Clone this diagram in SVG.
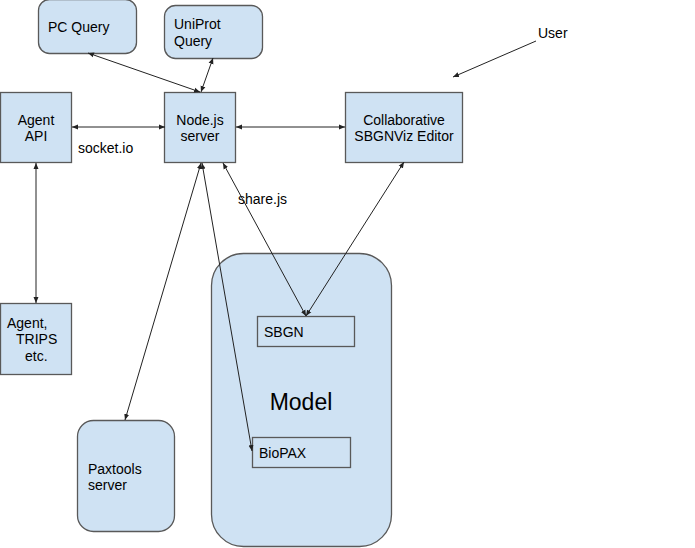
<svg xmlns="http://www.w3.org/2000/svg" width="695" height="548" viewBox="0 0 695 548">
<defs>
<marker id="ah" viewBox="0 0 6 6" refX="6" refY="3" markerWidth="6" markerHeight="6" markerUnits="userSpaceOnUse" orient="auto-start-reverse">
<path d="M0,0.5 L6,3 L0,5.5 z" fill="#222"/>
</marker>
</defs>
<style>
.n{fill:#cfe2f3;stroke:#595959;stroke-width:1.3}
.b{fill:none;stroke:#595959;stroke-width:1.3}
.t{font-family:"Liberation Sans",Arial,sans-serif;font-size:14px;fill:#000}
.c{text-anchor:middle}
.e{fill:none;stroke:#222;stroke-width:1;marker-start:url(#ah);marker-end:url(#ah)}
.s{fill:none;stroke:#222;stroke-width:1;marker-end:url(#ah)}
</style>
<rect width="695" height="548" fill="#fff"/>
<g id="model">
<rect class="n" x="211.5" y="253.5" width="180" height="293" rx="32"/>
<text class="t c" x="301" y="410" style="font-size:23px">Model</text>
</g>
<g id="sbgn">
<rect class="b" x="257.5" y="316.5" width="97" height="30"/>
<text class="t" x="264" y="337">SBGN</text>
</g>
<g id="biopax">
<rect class="b" x="252.5" y="437.5" width="98" height="30"/>
<text class="t" x="259" y="458">BioPAX</text>
</g>
<g id="pcquery">
<rect class="n" x="38.5" y="-0.5" width="98" height="54" rx="11"/>
<text class="t" x="48" y="32">PC Query</text>
</g>
<g id="uniprot">
<rect class="n" x="164.5" y="5.5" width="98" height="53" rx="11"/>
<text class="t" x="174" y="29">UniProt</text>
<text class="t" x="174" y="46">Query</text>
</g>
<g id="agentapi">
<rect class="n" x="0.5" y="92.5" width="71" height="70"/>
<text class="t c" x="36" y="125">Agent</text>
<text class="t c" x="36" y="141">API</text>
</g>
<g id="nodejs">
<rect class="n" x="164.5" y="92.5" width="71" height="70"/>
<text class="t c" x="200" y="125">Node.js</text>
<text class="t c" x="200" y="141">server</text>
</g>
<g id="editor">
<rect class="n" x="345.5" y="92.5" width="117" height="70"/>
<text class="t c" x="404" y="125">Collaborative</text>
<text class="t c" x="404" y="141">SBGNViz Editor</text>
</g>
<g id="agenttrips">
<rect class="n" x="0.5" y="303.5" width="71" height="71"/>
<text class="t" x="7" y="328">Agent,</text>
<text class="t" x="16" y="344">TRIPS</text>
<text class="t" x="25" y="361">etc.</text>
</g>
<g id="paxtools">
<rect class="n" x="77.5" y="420.5" width="97" height="111" rx="16"/>
<text class="t" x="88" y="474">Paxtools</text>
<text class="t" x="88" y="490">server</text>
</g>
<g id="user">
<text class="t" x="538" y="38">User</text>
</g>
<g id="labels">
<text class="t" x="78" y="153">socket.io</text>
<text class="t" x="238" y="204">share.js</text>
</g>
<g id="connectors">
<line class="e" x1="88" y1="53" x2="200" y2="92"/>
<line class="e" x1="213" y1="58" x2="201" y2="92"/>
<line class="e" x1="72" y1="127" x2="165" y2="127"/>
<line class="e" x1="236" y1="127" x2="345" y2="127"/>
<line class="e" x1="36" y1="163" x2="36" y2="303"/>
<line class="e" x1="201" y1="163" x2="125" y2="420"/>
<line class="e" x1="202" y1="163" x2="252" y2="451"/>
<line class="e" x1="223" y1="163" x2="306" y2="316"/>
<line class="e" x1="404" y1="162" x2="306" y2="316"/>
<line class="s" x1="536" y1="41" x2="453" y2="77"/>
</g>
</svg>
